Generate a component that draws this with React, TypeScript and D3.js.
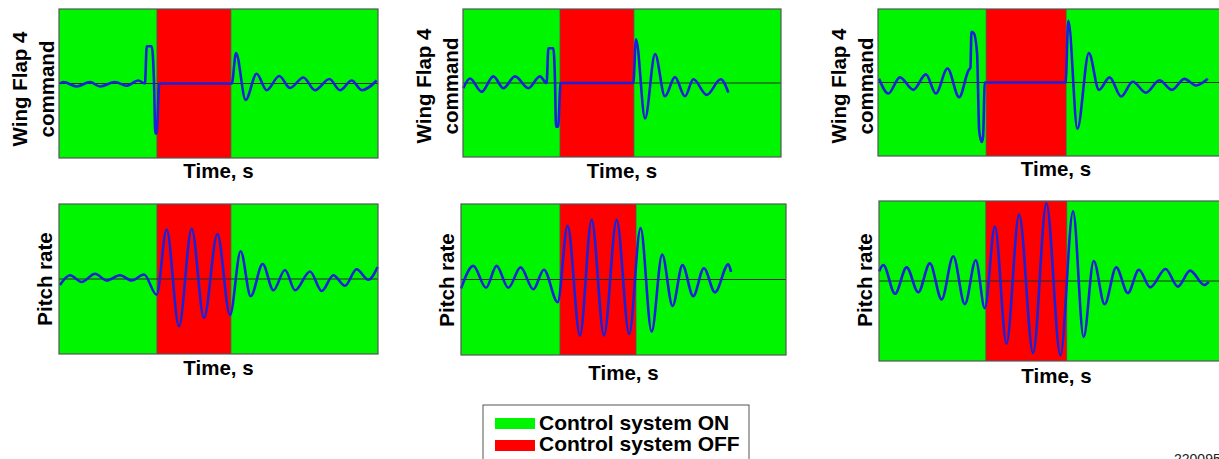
import React from 'react';
import * as d3 from 'd3';

// time (s, arbitrary) vs. normalised response
const wingFlapA: [number, number][] = [
  [0.06, 0], [0.27, 0.02], [1.11, -0.04], [1.94, 0.02], [2.57, -0.04], [3.51, 0.02], [4.24, -0.03], [4.97, 0.04],
  [5.39, 0], [5.5, 0.5], [5.81, 0.5], [5.96, 0], [6.04, -0.67], [6.12, -0.67], [6.29, 0], [10.83, 0],
  [11.1, 0.41], [11.7, -0.22], [12.39, 0.13], [13.02, -0.09], [13.81, 0.1], [14.48, -0.06], [15.32, 0.08],
  [16.05, -0.09], [16.95, 0.06], [17.62, -0.09], [18.35, 0.04], [18.98, -0.09], [19.92, 0.04],
];
const wingFlapB: [number, number][] = [
  [0.02, -0.07], [0.44, 0.06], [1.17, -0.12], [1.91, 0.09], [2.54, -0.07], [3.27, 0.09], [4.11, -0.07], [4.84, 0.09],
  [5.26, 0], [5.37, 0.47], [5.68, 0.47], [5.79, 0], [5.85, -0.59], [5.98, -0.59], [6.14, 0], [10.71, 0],
  [10.88, 0.59], [11.45, -0.48], [12.08, 0.39], [12.7, -0.18], [13.33, 0.08], [13.96, -0.18], [14.49, 0.05],
  [15.33, -0.16], [16.21, 0.05], [16.69, -0.13],
];
const wingFlapC: [number, number][] = [
  [0.06, 0.05], [0.6, -0.15], [1.28, 0.07], [2.06, -0.1], [2.8, 0.11], [3.38, -0.15], [4.06, 0.19], [4.74, -0.2],
  [5.3, 0.17], [5.4, 0.2], [5.46, 0.69], [5.6, 0.67], [5.79, 0.39], [5.91, -0.65], [6.06, -0.81], [6.14, -0.74],
  [6.24, 0], [10.96, 0], [11.12, 0.84], [11.65, -0.63], [12.32, 0.4], [12.91, -0.1], [13.53, 0.07], [14.21, -0.19],
  [14.88, 0.01], [15.66, -0.14], [16.44, 0.03], [17.18, -0.1], [17.9, 0.05], [18.58, -0.04], [19.27, 0.05],
];
const pitchRateA: [number, number][] = [
  [0.06, -0.08], [0.69, 0.05], [1.42, -0.04], [2.26, 0.07], [2.99, -0.02], [3.82, 0.05], [4.56, -0.02], [5.33, 0.06],
  [6.12, -0.21], [6.75, 0.66], [7.52, -0.63], [8.32, 0.67], [9.09, -0.52], [9.93, 0.6], [10.72, -0.48],
  [11.39, 0.37], [12.02, -0.23], [12.77, 0.2], [13.44, -0.15], [14.17, 0.12], [14.8, -0.15], [15.74, 0.1],
  [16.47, -0.16], [17.2, 0.05], [17.93, -0.09], [18.66, 0.13], [19.39, -0.01], [19.98, 0.16],
];
const pitchRateB: [number, number][] = [
  [0, -0.12], [0.76, 0.18], [1.54, -0.11], [2.19, 0.18], [2.91, -0.11], [3.67, 0.16], [4.45, -0.13], [5.1, 0.13],
  [5.95, -0.3], [6.56, 0.71], [7.32, -0.74], [8.04, 0.79], [8.8, -0.74], [9.58, 0.79], [10.35, -0.72],
  [11.05, 0.68], [11.73, -0.69], [12.38, 0.33], [13.02, -0.35], [13.63, 0.19], [14.29, -0.22], [14.95, 0.15],
  [15.63, -0.17], [16.45, 0.2], [16.62, 0.1],
];
const pitchRateC: [number, number][] = [
  [0, 0.12], [0.25, 0.2], [0.94, -0.16], [1.62, 0.17], [2.3, -0.14], [2.98, 0.22], [3.67, -0.23], [4.35, 0.31],
  [5.03, -0.29], [5.67, 0.26], [6.2, -0.34], [6.79, 0.68], [7.47, -0.78], [8.21, 0.83], [9.03, -0.9],
  [9.81, 0.97], [10.63, -0.93], [11.37, 0.87], [11.99, -0.7], [12.58, 0.25], [13.22, -0.29], [13.9, 0.17],
  [14.58, -0.15], [15.23, 0.14], [15.89, -0.08], [16.79, 0.15], [17.51, -0.07], [18.23, 0.13], [19.06, -0.05],
  [19.32, -0.01],
];

// control system switched off between these times
const offStart = [6.14, 6.1, 6.32, 6.14, 6.09, 6.26];
const offEnd = [10.78, 10.75, 10.99, 10.78, 10.77, 11.0];
const tMax = [20, 20, 20.8, 20, 20, 20.8];

const yLabels = [['Wing Flap 4', 'command'], ['Pitch rate']];
const xLabel = 'Time, s';
const legendItems = ['Control system ON', 'Control system OFF'];

const GREEN = '#00f600';
const RED = '#ff0000';
const BLUE = '#1c20d8';
const FONT = "'Liberation Sans', Arial, Helvetica, sans-serif";

// panel boxes (layout only)
const layout = [
  { x: 59, y: 9, w: 319, h: 149, labelY: 89, xlDy: 20 },
  { x: 463, y: 9, w: 318, h: 148, labelY: 86, xlDy: 21 },
  { x: 878, y: 9, w: 356, h: 147, labelY: 86, xlDy: 20 },
  { x: 59, y: 204, w: 319, h: 150, labelY: 279, xlDy: 21 },
  { x: 461, y: 204, w: 325, h: 151, labelY: 280, xlDy: 25 },
  { x: 879, y: 201, w: 355, h: 160, labelY: 280, xlDy: 22 },
];

const series = [wingFlapA, wingFlapB, wingFlapC, pitchRateA, pitchRateB, pitchRateC];

const Panel = ({ i }: { i: number }) => {
  const p = layout[i];
  const data = series[i];
  const x = d3.scaleLinear().domain([0, tMax[i]]).range([p.x, p.x + p.w]);
  const y = d3.scaleLinear().domain([-1, 1]).range([p.y + p.h, p.y]);
  const line = d3.line<[number, number]>()
    .x(d => x(d[0]))
    .y(d => y(d[1]))
    .curve(d3.curveMonotoneX);
  const labels = yLabels[i < 3 ? 0 : 1];
  const cx = x(tMax[i] / 2);

  return (
    <g>
      <rect x={p.x} y={p.y} width={p.w} height={p.h} fill={GREEN} />
      <rect x={x(offStart[i])} y={p.y} width={x(offEnd[i]) - x(offStart[i])} height={p.h} fill={RED} />
      <line x1={x(offStart[i])} x2={x(offStart[i])} y1={p.y} y2={p.y + p.h} stroke="#555" strokeWidth={0.8} />
      <line x1={x(offEnd[i])} x2={x(offEnd[i])} y1={p.y} y2={p.y + p.h} stroke="#555" strokeWidth={0.8} />
      <line x1={p.x} x2={p.x + p.w} y1={y(0)} y2={y(0)} stroke="#2a2a2a" strokeWidth={1.1} />
      <path d={line(data) || ''} fill="none" stroke={BLUE} strokeWidth={2.6} strokeLinejoin="round" />
      <rect x={p.x} y={p.y} width={p.w} height={p.h} fill="none" stroke="#555" strokeWidth={1.2} />
      {labels.map((t, k) => (
        <text
          key={t}
          transform={`translate(${p.x - (labels.length === 2 ? (k === 0 ? 32 : 5) : 7)},${p.labelY}) rotate(-90)`}
          textAnchor="middle"
          fontSize={20.5}
          fontWeight="bold"
        >
          {t}
        </text>
      ))}
      <text x={cx} y={p.y + p.h + p.xlDy} textAnchor="middle" fontSize={20.5} fontWeight="bold">
        {xLabel}
      </text>
    </g>
  );
};

const App = () => {
  const legendColors = [GREEN, RED];
  return (
    <svg
      width={1219}
      height={459}
      style={{ position: 'absolute', left: 0, top: 0, background: '#fff', fontFamily: FONT }}
    >
      {series.map((_, i) => <Panel key={i} i={i} />)}
      <rect x={483} y={405} width={266} height={70} fill="#fff" stroke="#555" strokeWidth={1} />
      {legendItems.map((t, k) => (
        <g key={t}>
          <rect x={495} y={418 + k * 22} width={40} height={11} fill={legendColors[k]} />
          <text x={539} y={429.5 + k * 21.5} fontSize={21} fontWeight="bold">{t}</text>
        </g>
      ))}
      <text x={1174} y={464} fontSize={14} fill="#222">220095</text>
    </svg>
  );
};

export default App;
